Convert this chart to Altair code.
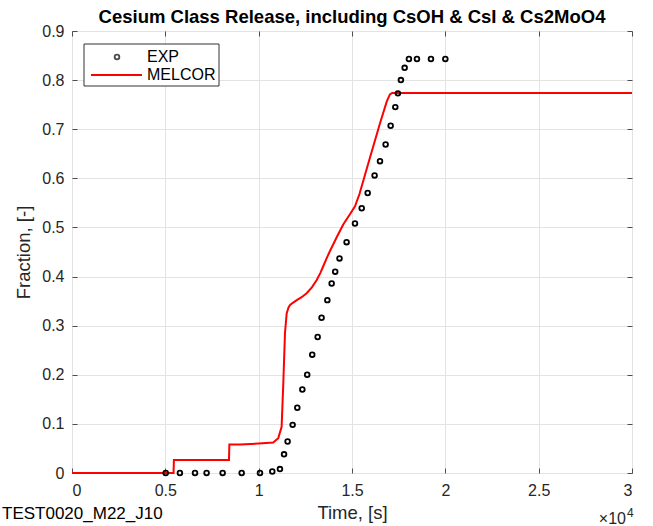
import altair as alt
import pandas as pd

# Series names as drawn in the legend
series_names = ["EXP", "MELCOR"]

# Experimental cesium release fraction
exp_time = [5020, 5780, 6590, 7210, 8070, 9090, 10070, 10730, 11140, 11360,
            11550, 11820, 12070, 12340, 12600, 12870, 13160, 13370, 13680, 13910,
            14100, 14330, 14710, 15160, 15520, 15840, 16210, 16500, 16800, 17070,
            17320, 17460, 17620, 17820, 18050, 18480, 19230, 20000]
exp_fraction = [0.0, 0.0, 0.0, 0.0, 0.0, 0.0, 0.0, 0.003, 0.008, 0.038,
                0.064, 0.098, 0.133, 0.170, 0.200, 0.241, 0.277, 0.316, 0.352, 0.386,
                0.410, 0.437, 0.470, 0.508, 0.539, 0.570, 0.606, 0.635, 0.669, 0.707,
                0.745, 0.773, 0.800, 0.825, 0.843, 0.843, 0.843, 0.843]

# MELCOR calculated release fraction
melcor_time = [0, 5440, 5460, 8410, 8430, 9000, 10000, 10780, 11050, 11230,
               11320, 11410, 11500, 11600, 11680, 11850, 12040, 12300, 12570, 12850,
               13110, 13300, 13460, 13650, 13820, 14180, 14530, 14890, 15160, 15400,
               15960, 16500, 16860, 17030, 17150, 30000]
melcor_fraction = [0.0, 0.0, 0.0265, 0.0265, 0.058, 0.058, 0.060, 0.062, 0.071, 0.094,
                   0.183, 0.285, 0.325, 0.337, 0.342, 0.347, 0.352, 0.358, 0.366, 0.378,
                   0.393, 0.407, 0.421, 0.438, 0.452, 0.480, 0.506, 0.527, 0.543, 0.568,
                   0.642, 0.712, 0.756, 0.771, 0.774, 0.774]

# Axis ticks
x_ticks = [0, 5000, 10000, 15000, 20000, 25000, 30000]
y_ticks = [0, 0.1, 0.2, 0.3, 0.4, 0.5, 0.6, 0.7, 0.8, 0.9]

FONT = "Liberation Sans"
INK = "#262626"
BOX = "#4d4d4d"
GRID = "#e3e3e3"
RED = "#ff0000"

W, H = 560, 442

exp_df = pd.DataFrame({"time": exp_time, "fraction": exp_fraction, "series": series_names[0]})
mel_df = pd.DataFrame({"time": melcor_time, "fraction": melcor_fraction, "series": series_names[1]})

x_scale = alt.Scale(domain=[0, 30000], nice=False, zero=False)
y_scale = alt.Scale(domain=[0, 0.9], nice=False, zero=False)

main_x = alt.X(
    "time:Q", scale=x_scale, title="Time, [s]",
    axis=alt.Axis(values=x_ticks, labelExpr="datum.value / 10000", grid=True,
                  gridColor=GRID, ticks=False, domain=False, labelPadding=9,
                  titlePadding=5, labelFontSize=16, titleFontSize=18.5,
                  labelColor=INK, titleColor=INK, titleFontWeight="normal",
                  labelFont=FONT, titleFont=FONT, orient="bottom"),
)
main_y = alt.Y(
    "fraction:Q", scale=y_scale, title="Fraction, [-]",
    axis=alt.Axis(values=y_ticks, format="~g", grid=True, gridColor=GRID,
                  ticks=False, domain=False, labelPadding=8, titlePadding=8,
                  labelFontSize=16, titleFontSize=18.5, labelColor=INK,
                  titleColor=INK, titleFontWeight="normal", labelFont=FONT,
                  titleFont=FONT, orient="left"),
)

line = alt.Chart(mel_df).mark_line(color=RED, strokeWidth=2).encode(x=main_x, y=main_y)
points = alt.Chart(exp_df).mark_point(
    shape="circle", filled=False, color="black", size=22, strokeWidth=1.8, opacity=1
).encode(x=main_x, y=main_y)
main = alt.layer(line, points)


def tick_axis(orient, values):
    # tick-only axis pushed 5px into the plot so the ticks point inward
    return alt.Axis(orient=orient, values=values, offset=-5, tickSize=5,
                    tickColor=BOX, tickWidth=1, labels=False, grid=False,
                    domain=False, title="")


ticks_lb = alt.Chart(exp_df).mark_point(opacity=0).encode(
    x=alt.X("time:Q", scale=x_scale, axis=tick_axis("bottom", x_ticks)),
    y=alt.Y("fraction:Q", scale=y_scale, axis=tick_axis("left", y_ticks)),
)
ticks_tr = alt.Chart(exp_df).mark_point(opacity=0).encode(
    x=alt.X("time:Q", scale=x_scale, axis=tick_axis("top", x_ticks)),
    y=alt.Y("fraction:Q", scale=y_scale, axis=tick_axis("right", y_ticks)),
)

# Legend box
one = pd.DataFrame({"series": series_names})
legend_box = alt.Chart(one.head(1)).mark_rect(
    fill="white", stroke="#333333", strokeWidth=1
).encode(x=alt.value(12), x2=alt.value(147), y=alt.value(13), y2=alt.value(55))
legend_dot = alt.Chart(one.head(1)).mark_point(
    shape="circle", filled=False, color="black", size=22, strokeWidth=1.8
).encode(x=alt.value(45), y=alt.value(26))
legend_line = alt.Chart(one.tail(1)).mark_rule(color=RED, strokeWidth=2).encode(
    x=alt.value(19), x2=alt.value(70), y=alt.value(44)
)
legend_exp = alt.Chart(one.head(1)).mark_text(
    align="left", baseline="middle", font=FONT, fontSize=16, color="black"
).encode(x=alt.value(75), y=alt.value(26), text="series:N")
legend_mel = alt.Chart(one.tail(1)).mark_text(
    align="left", baseline="middle", font=FONT, fontSize=16, color="black"
).encode(x=alt.value(75), y=alt.value(44), text="series:N")

# Axis multiplier and case label
mult = alt.Chart(one.head(1)).mark_text(
    align="right", baseline="alphabetic", font=FONT, fontSize=16, color=INK
).encode(x=alt.value(554), y=alt.value(493), text=alt.value("×10"))
mult_exp = alt.Chart(one.head(1)).mark_text(
    align="left", baseline="alphabetic", font=FONT, fontSize=12, color=INK
).encode(x=alt.value(555), y=alt.value(486), text=alt.value("4"))
case_label = alt.Chart(one.head(1)).mark_text(
    align="left", baseline="middle", font=FONT, fontSize=17, color="black"
).encode(x=alt.value(-70), y=alt.value(483), text=alt.value("TEST0020_M22_J10"))

chart = alt.layer(
    main, ticks_lb, ticks_tr,
    legend_box, legend_dot, legend_line, legend_exp, legend_mel,
    mult, mult_exp, case_label,
).resolve_axis(
    x="independent", y="independent"
).properties(
    width=W, height=H,
    title=alt.TitleParams(
        "Cesium Class Release, including CsOH & CsI & Cs2MoO4",
        font=FONT, fontSize=18.5, fontWeight="bold", color="black",
        anchor="middle", frame="group", offset=7, dy=10,
    ),
    autosize=alt.AutoSizeParams(type="none"),
    padding={"left": 72, "top": 31, "right": 21, "bottom": 53},
).configure_view(
    stroke=BOX, strokeWidth=1
).configure(background="white")

chart.save("out.html", embed_options={"renderer": "svg", "actions": False})
